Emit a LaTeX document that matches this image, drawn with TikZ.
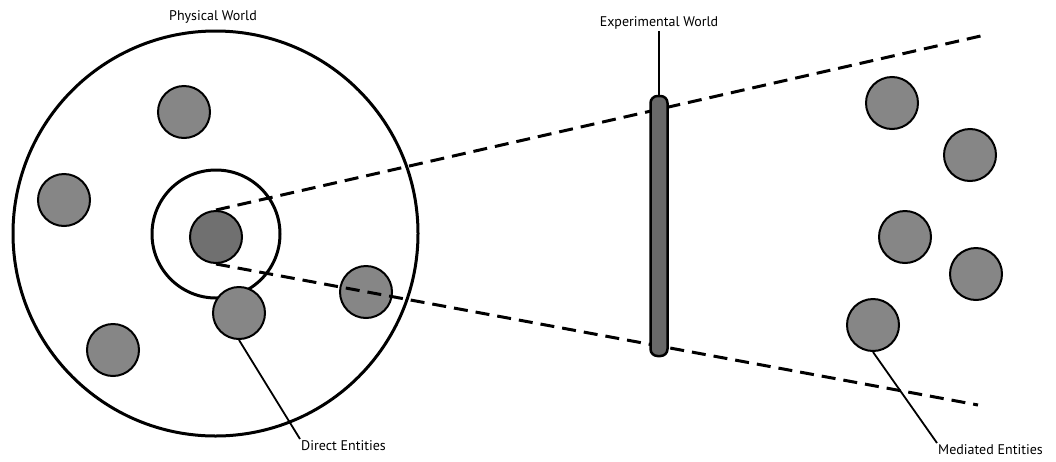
\documentclass[tikz,border=0pt]{standalone}
\usepackage{fontspec}
\setmainfont{PT Sans}
\begin{document}
\begin{tikzpicture}[x=1pt,y=-1pt,
  ent/.style={circle,draw=black,line width=2pt,fill=entgray,minimum size=52pt,inner sep=0pt},
  world/.style={circle,draw=black,line width=3pt,inner sep=0pt},
  dashline/.style={line width=3pt,dash pattern=on 14pt off 8pt},
  lbl/.style={font=\fontsize{14}{16}\selectfont,inner sep=1pt},
  lead/.style={line width=1.8pt}]
\definecolor{entgray}{HTML}{868686}
\definecolor{bargray}{HTML}{686868}
\definecolor{dirgray}{HTML}{707070}
\useasboundingbox (0,0) rectangle (1056,461);
% worlds
\node[world,minimum size=405pt] (phys) at (215.5,233.5) {};
\node[world,minimum size=128pt] (inner) at (216,234) {};
\node[lbl] (physlbl) at (213,17) {Physical World};
% other entities
\node[ent] (e1) at (184,112) {};
\node[ent] (e2) at (64,200) {};
\node[ent] (e3) at (366,292) {};
\node[ent] (e4) at (239,313) {};
\node[ent] (e5) at (113,350) {};
% direct entity (centre)
\node[ent,fill=dirgray] (direct) at (216,237) {};
% mediated entities
\node[ent] (m1) at (892,103) {};
\node[ent] (m2) at (970,155) {};
\node[ent] (m3) at (905,237) {};
\node[ent] (m4) at (976,274) {};
\node[ent] (m5) at (873,325) {};
% dashed lines
\coordinate (upend) at (985,35);
\coordinate (lowend) at (978,405);
\draw[dashline] (direct.north) -- (upend);
\draw[dashline] (direct.south) -- (lowend);
% experimental world bar
\node[draw=black,line width=2.5pt,fill=bargray,rounded corners=7pt,minimum width=17pt,minimum height=260pt,inner sep=0pt] (bar) at (659,226) {};
\node[lbl] (explbl) at (659,23) {Experimental World};
\draw[lead] (bar.north) -- (explbl.south);
% labels
\node[lbl,anchor=north west] (dlbl) at (300,439) {Direct Entities};
\node[lbl,anchor=north west] (mlbl) at (937,443) {Mediated Entities};
\draw[lead] (e4.south) -- (dlbl.north west);
\draw[lead] (m5.south) -- (mlbl.north west);
\end{tikzpicture}
\end{document}
